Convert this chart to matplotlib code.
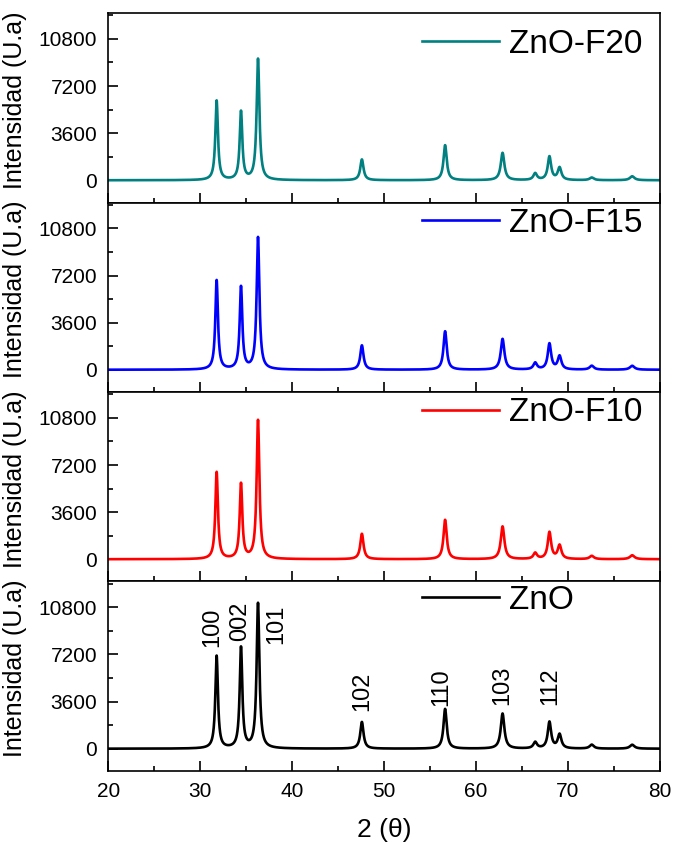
import numpy as np
import matplotlib
matplotlib.use("Agg")
import matplotlib.pyplot as plt
from matplotlib.ticker import MultipleLocator

plt.rcParams["font.family"] = ["Liberation Sans", "DejaVu Sans"]

peak_pos = [31.8, 34.45, 36.3, 47.6, 56.65, 62.9, 66.45, 68.0, 69.1, 72.6, 77.0]
peak_fwhm = [0.34, 0.34, 0.36, 0.42, 0.42, 0.47, 0.47, 0.44, 0.47, 0.55, 0.6]

# peak heights for each sample (U.a)
h_f20 = [6070, 5230, 9250, 1590, 2680, 2090, 510, 1790, 940, 200, 300]
h_f15 = [6820, 6310, 10090, 1860, 2940, 2350, 510, 1970, 1020, 300, 300]
h_f10 = [6640, 5740, 10600, 1940, 3010, 2500, 460, 2040, 1040, 250, 300]
h_zno = [7070, 7710, 11080, 2040, 3040, 2680, 480, 2020, 1070, 300, 300]

samples = ["ZnO-F20", "ZnO-F15", "ZnO-F10", "ZnO"]
heights = [h_f20, h_f15, h_f10, h_zno]
colors = ["#008080", "#0000ff", "#ff0000", "#000000"]
legend_y = [0.835, 0.89, 0.89, 0.9]

# Miller indices labelled on the ZnO pattern
hkl = ["100", "002", "101", "102", "110", "103", "112"]
hkl_x = [31.27, 34.35, 38.3, 47.68, 56.27, 62.86, 68.1]
hkl_y = [7790, 8220, 7970, 2860, 3240, 3320, 3370]

two_theta = np.arange(20, 80.001, 0.02)


def pattern(hs):
    y = np.zeros_like(two_theta)
    for p, w, h in zip(peak_pos, peak_fwhm, hs):
        y += h / (1 + (2 * (two_theta - p) / w) ** 2)
    return y


fig, axes = plt.subplots(4, 1, sharex=True, figsize=(6.76, 8.46), dpi=100)
fig.subplots_adjust(left=0.16, right=0.976, top=0.9846, bottom=0.0887, hspace=0)

for ax, name, hs, c, ly in zip(axes, samples, heights, colors, legend_y):
    ax.plot(two_theta, pattern(hs), color=c, lw=1.9, label=name)
    ax.set_xlim(20, 80)
    ax.set_ylim(-1700, 12780)
    ax.set_yticks([0, 3600, 7200, 10800])
    ax.yaxis.set_minor_locator(MultipleLocator(1800))
    ax.xaxis.set_major_locator(MultipleLocator(10))
    ax.xaxis.set_minor_locator(MultipleLocator(5))
    ax.tick_params(which="both", direction="in", top=False, right=False,
                   width=1.2, labelsize=15, pad=8)
    ax.tick_params(which="major", length=7)
    ax.tick_params(which="minor", length=3.6)
    for s in ax.spines.values():
        s.set_linewidth(1.2)
    ax.set_ylabel("Intensidad (U.a)", fontsize=18)
    ax.yaxis.set_label_coords(-0.147, 0.54)
    ax.legend(loc="center left", bbox_to_anchor=(0.569, ly), frameon=False,
              fontsize=24, borderpad=0, borderaxespad=0, handlelength=2.3,
              handletextpad=0.3)

for lab, x, y in zip(hkl, hkl_x, hkl_y):
    axes[3].text(x, y, lab, rotation=90, ha="center", va="bottom", fontsize=17)

axes[3].set_xlabel("2 (θ)", fontsize=19, labelpad=12)

fig.savefig("out.png", dpi=100)
